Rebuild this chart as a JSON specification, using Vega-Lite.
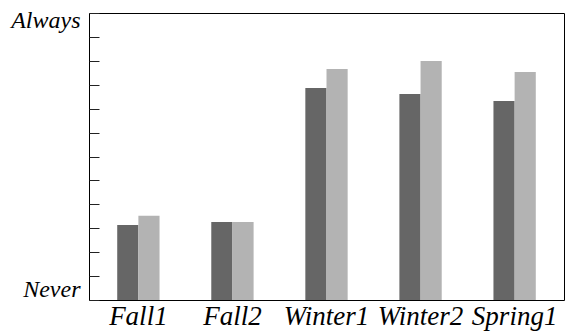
{
  "$schema": "https://vega.github.io/schema/vega-lite/v6.json",
  "width": 475,
  "height": 287,
  "autosize": {"type": "none"},
  "padding": {"left": 89, "top": 13, "right": 3, "bottom": 33},
  "background": "white",
  "data": {
    "values": [
      {"term": "Fall1", "series": "A", "value": 3.14},
      {"term": "Fall1", "series": "B", "value": 3.52},
      {"term": "Fall2", "series": "A", "value": 3.26},
      {"term": "Fall2", "series": "B", "value": 3.26},
      {"term": "Winter1", "series": "A", "value": 8.86},
      {"term": "Winter1", "series": "B", "value": 9.66},
      {"term": "Winter2", "series": "A", "value": 8.61},
      {"term": "Winter2", "series": "B", "value": 9.99},
      {"term": "Spring1", "series": "A", "value": 8.32},
      {"term": "Spring1", "series": "B", "value": 9.53}
    ]
  },
  "mark": {"type": "bar"},
  "encoding": {
    "x": {
      "field": "term",
      "type": "nominal",
      "sort": ["Fall1", "Fall2", "Winter1", "Winter2", "Spring1"],
      "scale": {"paddingInner": 0.55, "paddingOuter": 0.3},
      "axis": {
        "title": null,
        "labelAngle": 0,
        "ticks": false,
        "domain": false,
        "labelFont": "Liberation Serif, Times New Roman, serif",
        "labelFontStyle": "italic",
        "labelFontSize": 27,
        "labelColor": "#000",
        "labelPadding": 3
      }
    },
    "xOffset": {"field": "series", "type": "nominal", "scale": {"paddingInner": 0}},
    "y": {
      "field": "value",
      "type": "quantitative",
      "scale": {"domain": [0, 12], "nice": false},
      "axis": {
        "title": null,
        "values": [0, 1, 2, 3, 4, 5, 6, 7, 8, 9, 10, 11, 12],
        "labelExpr": "datum.value == 0 ? 'Never' : datum.value == 12 ? 'Always' : ''",
        "tickSize": -10,
        "tickColor": "#222",
        "domain": false,
        "grid": false,
        "labelFlush": false,
        "labelBaseline": "middle",
        "labelOffset": {"condition": {"test": "datum.value == 12", "value": 7}, "value": -11},
        "labelFont": "Liberation Serif, Times New Roman, serif",
        "labelFontStyle": "italic",
        "labelFontSize": 24,
        "labelColor": "#000",
        "labelPadding": 19
      }
    },
    "color": {
      "field": "series",
      "type": "nominal",
      "scale": {"range": ["#666666", "#b3b3b3"]},
      "legend": null
    }
  },
  "config": {
    "view": {"stroke": "#000", "strokeWidth": 1},
    "axis": {"grid": false}
  }
}
